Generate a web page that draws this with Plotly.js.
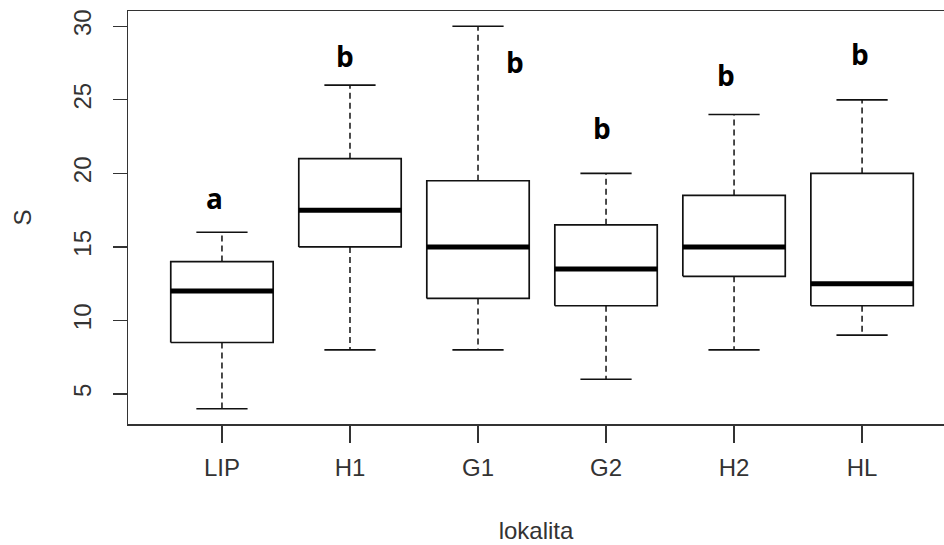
<!DOCTYPE html>
<html>
<head>
<meta charset="utf-8">
<script src="https://cdn.plot.ly/plotly-3.0.1.min.js"></script>
<style>html,body{margin:0;padding:0;background:#fff;}</style>
</head>
<body>
<div id="chart" style="width:944px;height:545px;"></div>
<script>
// ---- data ----
const categories = ['LIP', 'H1', 'G1', 'G2', 'H2', 'HL'];
const lowerWhisker = [4, 8, 8, 6, 8, 9];
const q1 = [8.5, 15, 11.5, 11, 13, 11];
const median = [12, 17.5, 15, 13.5, 15, 12.5];
const q3 = [14, 21, 19.5, 16.5, 18.5, 20];
const upperWhisker = [16, 26, 30, 20, 24, 25];
const groupLetters = ['a', 'b', 'b', 'b', 'b', 'b'];
const yTicks = [5, 10, 15, 20, 25, 30];

// ---- layout helpers ----
const boxHalf = 0.4, capHalf = 0.2;
const letterPos = [[0.945, 18.35], [1.96, 27.95], [3.29, 27.54], [3.97, 23.1], [4.94, 26.7], [5.98, 28.1]];

const boxX = [], boxY = [], medX = [], medY = [], whX = [], whY = [], capX = [], capY = [];
categories.forEach((c, i) => {
  const x = i + 1;
  boxX.push(x - boxHalf, x + boxHalf, x + boxHalf, x - boxHalf, x - boxHalf, null);
  boxY.push(q1[i], q1[i], q3[i], q3[i], q1[i], null);
  medX.push(x - boxHalf, x + boxHalf, null);
  medY.push(median[i], median[i], null);
  whX.push(x, x, null, x, x, null);
  whY.push(q3[i], upperWhisker[i], null, q1[i], lowerWhisker[i], null);
  capX.push(x - capHalf, x + capHalf, null, x - capHalf, x + capHalf, null);
  capY.push(upperWhisker[i], upperWhisker[i], null, lowerWhisker[i], lowerWhisker[i], null);
});

const common = {mode: 'lines', hoverinfo: 'skip', showlegend: false};
const traces = [
  Object.assign({x: whX, y: whY, line: {color: '#111', width: 1.5, dash: '6px,4px'}}, common),
  Object.assign({x: capX, y: capY, line: {color: '#111', width: 1.6}}, common),
  Object.assign({x: boxX, y: boxY, line: {color: '#111', width: 1.7}}, common),
  Object.assign({x: medX, y: medY, line: {color: '#000', width: 5}}, common)
];

const axisFont = {family: 'Liberation Sans, Arial, sans-serif', size: 24, color: '#333'};

const annotations = groupLetters.map((t, i) => ({
  x: letterPos[i][0], y: letterPos[i][1], xref: 'x', yref: 'y',
  text: t, showarrow: false,
  font: {family: 'Open Sans, sans-serif', size: 28, color: '#000', weight: 'bold'}
}));

const layout = {
  width: 944, height: 545,
  margin: {l: 128, r: 0, t: 11, b: 121},
  paper_bgcolor: '#fff', plot_bgcolor: '#fff',
  font: axisFont,
  xaxis: {
    range: [0.266, 6.64],
    tickmode: 'array', tickvals: categories.map((c, i) => i + 1), ticktext: categories,
    ticks: 'outside', ticklen: 17, tickwidth: 1.2, tickcolor: '#333',
    ticklabelstandoff: 5,
    showgrid: false, zeroline: false,
    showline: true, linecolor: '#333', linewidth: 1.5, mirror: true,
    tickfont: axisFont,
    title: {text: 'lokalita', font: axisFont, standoff: 42}
  },
  yaxis: {
    range: [2.96, 31.04],
    tickmode: 'array', tickvals: yTicks,
    ticks: 'outside', ticklen: 14, tickwidth: 1.2, tickcolor: '#333',
    tickangle: -90,
    ticklabelstandoff: 12,
    showgrid: false, zeroline: false,
    showline: true, linecolor: '#333', linewidth: 1.5,
    tickfont: axisFont,
    title: {text: 'S', font: axisFont, standoff: 30}
  },
  annotations: annotations
};

Plotly.newPlot('chart', traces, layout, {displayModeBar: false, staticPlot: true});
</script>
</body>
</html>
